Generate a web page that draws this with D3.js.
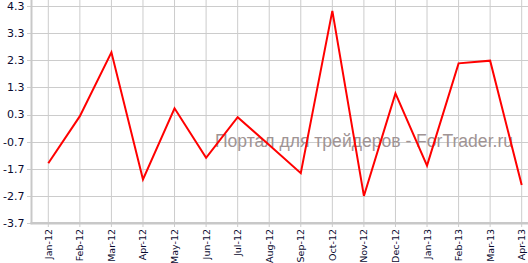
<!DOCTYPE html>
<html>
<head>
<meta charset="utf-8">
<script src="https://cdn.jsdelivr.net/npm/d3@7"></script>
<style>
  body { margin: 0; background: #fff; }
  svg { display: block; }
</style>
</head>
<body>
<svg id="chart" width="528" height="263"></svg>
<script>
// monthly values
const months = ["Jan-12", "Feb-12", "Mar-12", "Apr-12", "May-12", "Jun-12", "Jul-12", "Aug-12",
                "Sep-12", "Oct-12", "Nov-12", "Dec-12", "Jan-13", "Feb-13", "Mar-13", "Apr-13"];
const values = [-1.50, 0.24, 2.60, -2.10, 0.53, -1.30, 0.20, -0.83,
                -1.87, 4.13, -2.71, 1.08, -1.59, 2.19, 2.29, -2.31];
const yTicks = [4.3, 3.3, 2.3, 1.3, 0.3, -0.7, -1.7, -2.7, -3.7];
const watermark = "Портал для трейдеров - ForTrader.ru";

const width = 528, height = 263;
const axisX = 31.5, axisY = 223.2;

const svg = d3.select("#chart");

const x = d3.scalePoint()
    .domain(months)
    .range([48.3, 521.7]);

const y = d3.scaleLinear()
    .domain([-3.7, 4.3])
    .range([222.7, 6.3]);

// horizontal grid + little ticks left of the axis
svg.append("g")
    .selectAll("line")
    .data(yTicks)
    .join("line")
    .attr("x1", 27)
    .attr("x2", width)
    .attr("y1", d => Math.round(y(d)) + 0.5)
    .attr("y2", d => Math.round(y(d)) + 0.5)
    .attr("stroke", "#cccccc");

// vertical grid
svg.append("g")
    .selectAll("line")
    .data(months)
    .join("line")
    .attr("x1", d => x(d))
    .attr("x2", d => x(d))
    .attr("y1", 0)
    .attr("y2", 227)
    .attr("stroke", "#cccccc");

// y labels
svg.append("g")
    .selectAll("text")
    .data(yTicks)
    .join("text")
    .attr("x", 24.5)
    .attr("y", d => y(d))
    .attr("dy", "0.36em")
    .attr("text-anchor", "end")
    .attr("font-family", "DejaVu Sans, Verdana, sans-serif")
    .attr("font-size", 11)
    .attr("fill", "#0a0a30")
    .text(d => d.toFixed(1));

// x labels, rotated
svg.append("g")
    .selectAll("text")
    .data(months)
    .join("text")
    .attr("transform", d => `translate(${x(d) + 3.5},229) rotate(-90)`)
    .attr("text-anchor", "end")
    .attr("font-family", "DejaVu Sans, Verdana, sans-serif")
    .attr("font-size", 9.5)
    .attr("fill", "#0a0a30")
    .text(d => d);

// axis lines
svg.append("line")
    .attr("x1", axisX).attr("x2", axisX)
    .attr("y1", 0).attr("y2", axisY + 1)
    .attr("stroke", "#c8c8c8")
    .attr("stroke-width", 2);
svg.append("line")
    .attr("x1", axisX - 1).attr("x2", width)
    .attr("y1", axisY).attr("y2", axisY)
    .attr("stroke", "#c8c8c8")
    .attr("stroke-width", 2.5);

// watermark
svg.append("text")
    .attr("x", 215)
    .attr("y", 147)
    .attr("font-family", "Liberation Sans, Arial, sans-serif")
    .attr("font-size", 17.5)
    .attr("textLength", 298)
    .attr("lengthAdjust", "spacingAndGlyphs")
    .attr("fill", "#a09494")
    .text(watermark);

// series line
const line = d3.line()
    .x((d, i) => x(months[i]))
    .y(d => y(d));

svg.append("path")
    .datum(values)
    .attr("d", line)
    .attr("fill", "none")
    .attr("stroke", "#ff0000")
    .attr("stroke-width", 2)
    .attr("stroke-linejoin", "miter");
</script>
</body>
</html>
